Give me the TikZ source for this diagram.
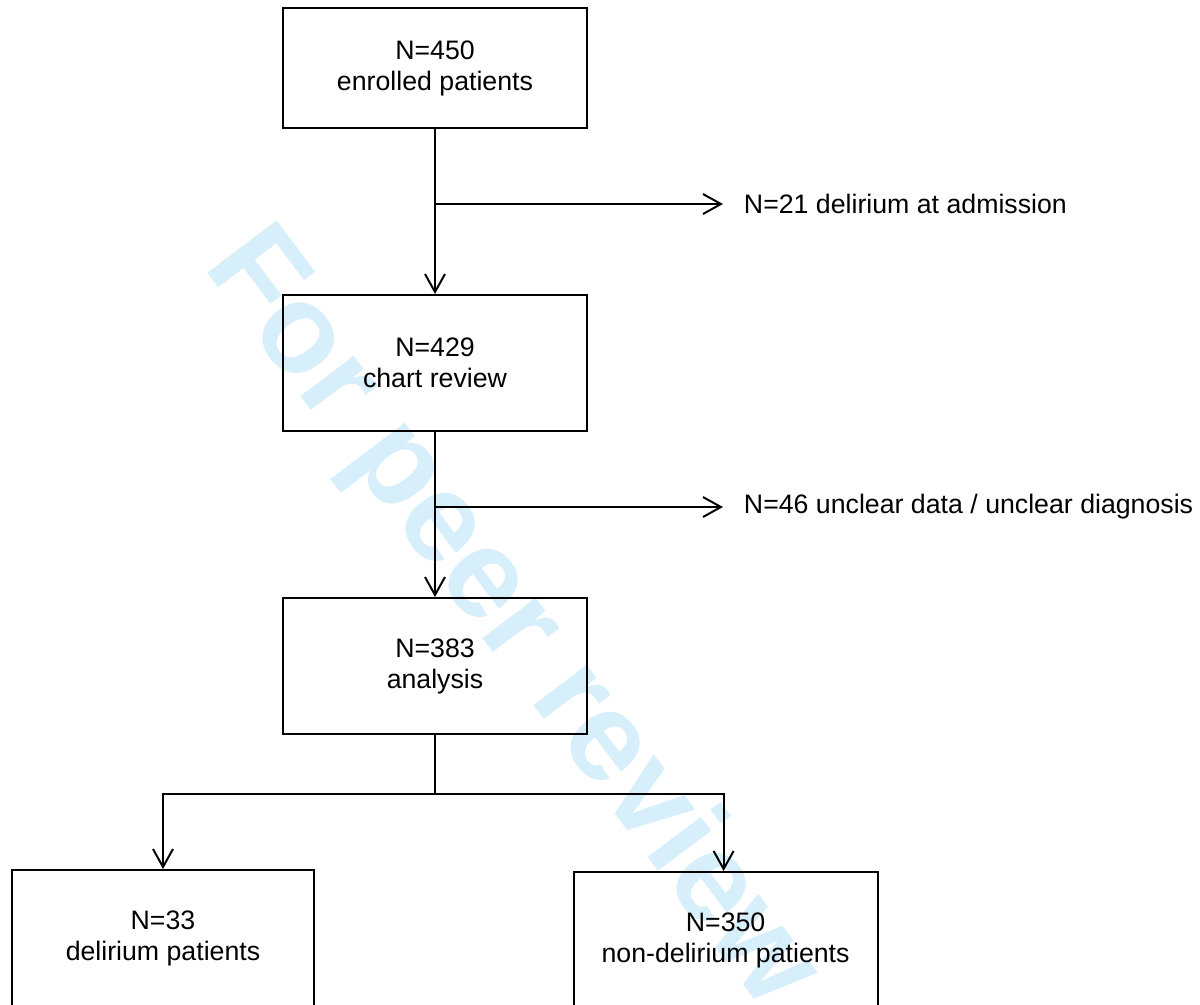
\documentclass[tikz,border=0pt]{standalone}
\usepackage{fontspec}
\setmainfont{Liberation Sans}
\usepackage{tikz}
\usetikzlibrary{arrows.meta,positioning,calc}
\definecolor{wmark}{RGB}{214,239,251}

\begin{document}
\begin{tikzpicture}[->,>={Straight Barb[length=4.5mm,width=5mm]}, line width=1.4pt, node distance=2.2cm]
		\tikzstyle{every node}=[font=\fontsize{19}{22}\selectfont]
		\tikzstyle{box}=[draw=black,text=black,align=center,inner sep=0pt,
		minimum width=7.6cm,minimum height=3.4cm]
		\useasboundingbox (0,0) rectangle (30,-25.1);
		% watermark
		\node[text=wmark,rotate=-53,font=\bfseries\fontsize{90}{90}\selectfont]
		(wm) at (12.75,-15.5) {For peer review};
		\begin{scope}
			\node[box,minimum height=3cm] (0) at (10.875,-1.7) {N=450\\enrolled patients};
			\node[box] (1) at (10.875,-9.075) {N=429\\chart review}; \node[box]
			(2) at (10.875,-16.65) {N=383\\analysis}; \node[box,minimum
			width=7.55cm] (3) at (4.075,-23.45) {N=33\\delirium patients};
			\node[box] (4) at (18.14,-23.5) {N=350\\non-delirium patients};
			\coordinate (b1) at (10.875,-5.1); \coordinate (b2) at
			(10.875,-12.675); \coordinate (s) at (10.875,-19.85);
			\node[anchor=west,inner sep=0pt] (x1) at (18.575,-5.1) {N=21
			delirium at admission}; \node[anchor=west,inner sep=0pt] (x2) at
			(18.575,-12.675) {N=46 unclear data / unclear diagnosis};

			\draw (0) -- (1); \draw (b1) -- ([xshift=-0.5cm]x1.west); \draw
			(1) -- (2); \draw (b2) -- ([xshift=-0.5cm]x2.west); \draw[-] (2)
			-- (s); \draw (s) -| (3); \draw (s) -| ([xshift=-0.05cm]4.north);
		\end{scope}
	\end{tikzpicture}
\end{document}
